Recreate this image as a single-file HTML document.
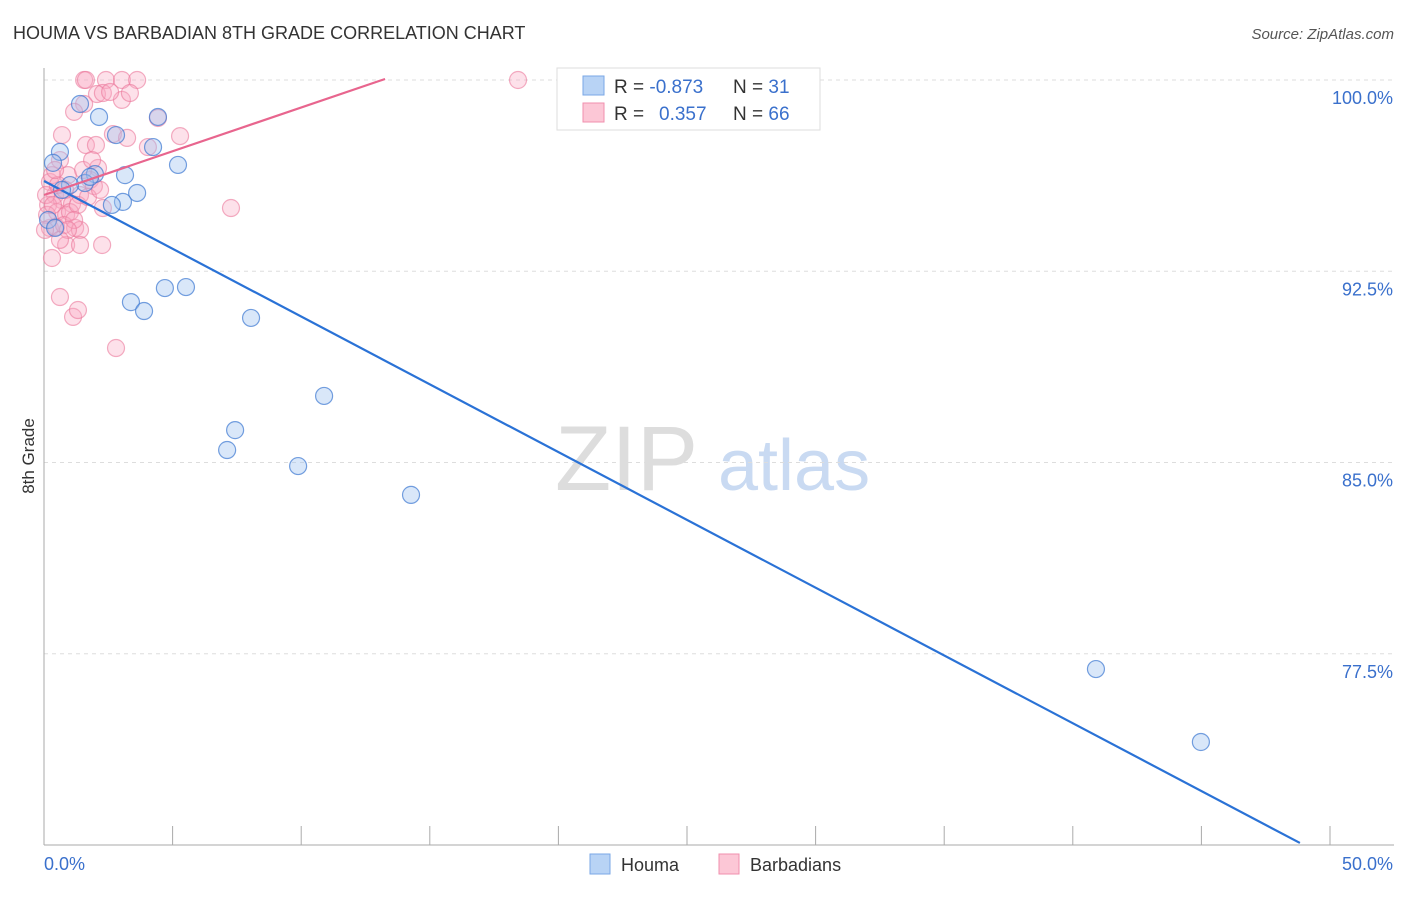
<!DOCTYPE html>
<html><head><meta charset="utf-8"><style>
body{margin:0;background:#fff;font-family:"Liberation Sans",sans-serif}
svg text{font-family:"Liberation Sans",sans-serif}
</style></head><body>
<svg id="chart" width="1406" height="892" xmlns="http://www.w3.org/2000/svg">
<text x="13" y="39" font-size="18" fill="#333">HOUMA VS BARBADIAN 8TH GRADE CORRELATION CHART</text>
<text x="1394" y="39" font-size="15" fill="#555" text-anchor="end" font-style="italic">Source: ZipAtlas.com</text>
<g>
<text x="555" y="490" font-size="92" fill="#ddd" font-family="Liberation Serif,serif">ZIP</text>
<text x="718" y="490" font-size="72" fill="#c9daf2">atlas</text>
</g>
<g id="grid"></g>
<g id="axes"></g>
<g id="marks"></g>
<text transform="translate(34,456) rotate(-90)" font-size="17" fill="#333" text-anchor="middle">8th Grade</text>
<g>
<rect x="557" y="68" width="263" height="62" fill="#fff" stroke="#ddd"/>
<rect x="583" y="76" width="21" height="19" fill="#b8d3f5" stroke="#7aa7e6"/>
<rect x="583" y="103" width="21" height="19" fill="#fcc7d6" stroke="#f08fae"/>
<text x="614" y="93" font-size="19" fill="#333">R = <tspan fill="#3a70cc">-0.873</tspan></text>
<text x="733" y="93" font-size="19" fill="#333">N = <tspan fill="#3a70cc"> 31</tspan></text>
<text x="614" y="120" font-size="19" fill="#333">R = <tspan fill="#3a70cc" x="659">0.357</tspan></text>
<text x="733" y="120" font-size="19" fill="#333">N = <tspan fill="#3a70cc">66</tspan></text>
</g>
<g>
<rect x="590" y="854" width="20" height="20" fill="#b8d3f5" stroke="#7aa7e6"/>
<text x="621" y="871" font-size="18" fill="#333">Houma</text>
<rect x="719" y="854" width="20" height="20" fill="#fcc7d6" stroke="#f08fae"/>
<text x="750" y="871" font-size="18" fill="#333">Barbadians</text>
</g>
</svg>
<script>
const houmaX=[1.40,2.14,2.80,4.43,4.24,0.62,0.35,5.21,3.15,1.98,1.59,1.01,3.62,3.07,2.64,0.16,0.70,1.79,3.38,3.89,4.70,5.52,8.05,10.89,7.43,7.12,9.88,14.27,40.90,44.98,0.43];
const houmaY=[99.06,98.55,97.84,98.55,97.37,97.18,96.75,96.67,96.27,96.31,95.96,95.88,95.57,95.22,95.10,94.51,95.69,96.20,91.29,90.94,91.84,91.88,90.67,87.61,86.27,85.49,84.86,83.73,76.90,74.04,94.20];
const barbX=[1.56,1.63,2.41,3.03,3.62,18.43,2.06,2.29,3.03,1.56,1.17,0.70,2.68,3.23,5.29,4.43,4.04,1.63,2.02,0.62,2.10,0.93,1.79,1.94,0.23,0.43,0.70,1.09,1.40,0.16,0.51,0.86,1.01,1.32,2.29,0.23,0.47,0.78,1.21,1.40,0.86,1.40,2.26,0.31,0.62,1.13,1.32,2.80,7.27,2.57,0.08,0.12,0.31,0.54,0.82,1.71,1.17,0.04,0.35,0.93,1.52,0.62,1.87,0.43,3.34,2.18];
const barbY=[100,100,100,100,100,100,99.45,99.49,99.22,99.06,98.75,97.84,97.88,97.73,97.80,98.51,97.37,97.45,97.45,96.86,96.55,96.27,96.08,95.84,96.00,95.49,95.29,95.14,95.49,95.10,94.82,94.71,94.82,95.10,94.98,94.20,94.24,94.31,94.20,94.12,93.53,93.53,93.53,93.02,91.49,90.71,90.98,89.49,94.98,99.53,95.49,94.71,96.27,95.88,95.69,95.41,94.51,94.12,95.10,94.12,96.47,93.73,96.86,96.47,99.49,95.69];
const yTicks=[100,92.5,85,77.5];
const yTickLabels=["100.0%","92.5%","85.0%","77.5%"];
const xTicks=[0,5,10,15,20,25,30,35,40,45,50];
const blueLine=[[0,96.04],[48.83,70.08]];
const pinkLine=[[0,95.49],[13.26,100.04]];
const NS="http://www.w3.org/2000/svg";
const sx=p=>44+p*25.72, sy=v=>80+(100-v)*25.5;
function mk(tag,attrs,parent){const e=document.createElementNS(NS,tag);for(const k in attrs)e.setAttribute(k,attrs[k]);document.getElementById(parent).appendChild(e);return e;}
yTicks.forEach((t,i)=>{
 const l=mk('line',{x1:44,x2:1394,y1:sy(t),y2:sy(t),stroke:'#ddd','stroke-dasharray':'4,4'},'grid');
 
 
 const tx=mk('text',{x:1393,y:sy(t)+24,'font-size':18,fill:'#3a70cc','text-anchor':'end'},'axes');
 tx.textContent=yTickLabels[i];
 
 
});
const ya=mk('line',{x1:44,x2:44,y1:68,y2:845,stroke:'#aaa'},'axes');


const xa=mk('line',{x1:44,x2:1394,y1:845,y2:845,stroke:'#aaa'},'axes');


xTicks.forEach(t=>{
 const l=mk('line',{x1:sx(t),x2:sx(t),y1:826,y2:845,stroke:'#aaa'},'axes');
 
 
});
const x0=mk('text',{x:44,y:870,'font-size':18,fill:'#3a70cc'},'axes');x0.textContent="0.0%";


const x1=mk('text',{x:1393,y:870,'font-size':18,fill:'#3a70cc','text-anchor':'end'},'axes');x1.textContent="50.0%";


barbX.forEach((x,i)=>{
 const c=mk('circle',{cx:sx(x),cy:sy(barbY[i]),r:8.5,fill:'rgba(248,170,195,0.35)',stroke:'rgba(235,120,155,0.6)','stroke-width':1.2},'marks');
 
 
});
houmaX.forEach((x,i)=>{
 const c=mk('circle',{cx:sx(x),cy:sy(houmaY[i]),r:8.5,fill:'rgba(160,195,240,0.4)',stroke:'rgba(60,120,210,0.7)','stroke-width':1.2},'marks');
 
 
});
const bl=mk('line',{x1:sx(blueLine[0][0]),y1:sy(blueLine[0][1]),x2:sx(blueLine[1][0]),y2:sy(blueLine[1][1]),stroke:'#2a72d6','stroke-width':2.2},'marks');


const pl=mk('line',{x1:sx(pinkLine[0][0]),y1:sy(pinkLine[0][1]),x2:sx(pinkLine[1][0]),y2:sy(pinkLine[1][1]),stroke:'#e8658e','stroke-width':2.2},'marks');


</script>
</body></html>
